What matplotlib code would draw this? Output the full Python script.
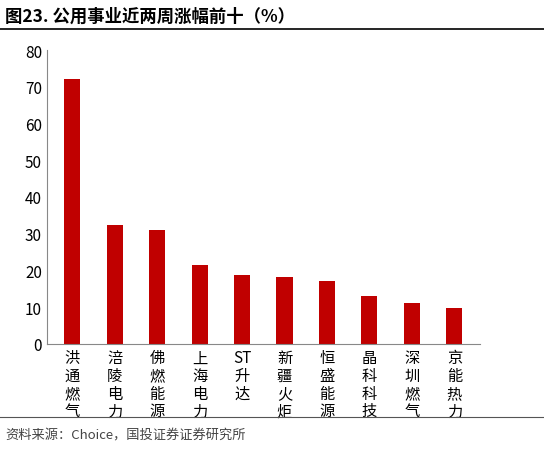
import matplotlib
matplotlib.use("Agg")
import matplotlib.pyplot as plt

plt.rcParams['font.family'] = ['Noto Sans CJK SC', 'DejaVu Sans']

categories = ["洪通燃气", "涪陵电力", "佛燃能源", "上海电力", "ST升达", "新疆火炬", "恒盛能源", "晶科科技", "深圳燃气", "京能热力"]
values = [72.2, 32.5, 31.0, 21.5, 18.7, 18.3, 17.0, 13.0, 11.0, 9.7]

def vert(s):
    if s.startswith("ST"):
        return "ST\n" + "\n".join(s[2:])
    return "\n".join(s)

fig = plt.figure(figsize=(5.44, 4.52), dpi=100)
ax = fig.add_axes([0.086, 0.237, 0.796, 0.65])
x = range(len(values))
ax.bar(x, values, width=0.38, color="#C00000")
ax.set_ylim(0, 80)
ax.set_yticks(range(0, 81, 10))
ax.set_xlim(-0.6, len(values) - 0.4)
ax.set_xticks(list(x))
ax.set_xticklabels([vert(c) for c in categories], fontsize=11, linespacing=1.05)
ax.tick_params(axis='y', labelsize=11, length=0)
ax.tick_params(axis='x', length=0, pad=4)
for s in ["top", "right"]:
    ax.spines[s].set_visible(False)
ax.spines["left"].set_color("#888888")
ax.spines["bottom"].set_color("#888888")

fig.text(0.01, 0.962, "图23. 公用事业近两周涨幅前十（%）", fontsize=12.5, fontweight="bold", va="center")
fig.add_artist(plt.Line2D([0, 1], [0.933, 0.933], color="black", lw=1.2))
fig.add_artist(plt.Line2D([0, 1], [0.075, 0.075], color="#555555", lw=0.8))
fig.text(0.01, 0.035, "资料来源：Choice，国投证券证券研究所", fontsize=9.5, style="italic", color="#444444", va="center")
fig.savefig("out.png", dpi=100)
